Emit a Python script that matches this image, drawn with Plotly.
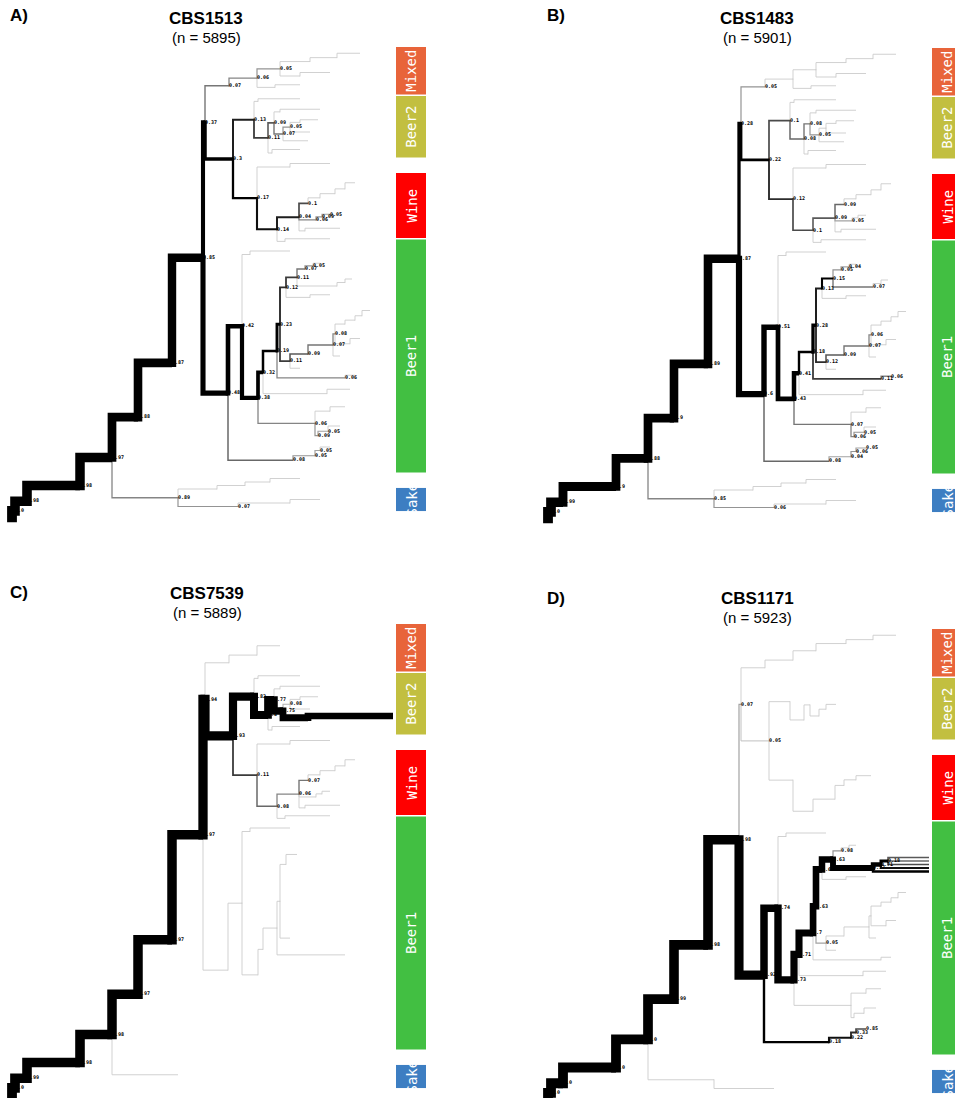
import plotly.graph_objects as go

# ---------------------------------------------------------------- data
# Shared tree topology.  Row = (internal node, parent, branch length,
# branch lengths of the leaves that hang directly off that node).
BACKBONE_ROWS = [
    ("r", None, 0, [88]),
    ("n1", "r", 3, [220]),
    ("n2", "n1", 12, [366]),
    ("n3", "n2", 53, [313]),
    ("n4", "n3", 32, []),
    ("n5", "n4", 26, [255]),
    ("n6", "n5", 34, [221]),
    ("n7", "n6", 31, []),
    ("u", "n7", 2, []),
    ("l0", "n7", 25, []),
]
MIXED_ROWS = [
    ("m0", "u", 24, [164]),
    ("m1", "m0", 28, []),
    ("m2", "m1", 23, []),
    ("m3", "m2", 30, [50]),
    ("m3a", "m3", 27, [56]),
    ("m3b", "m3a", 23, [33, 15, 33, 20]),
    ("m4", "m2", 20, [93]),
    ("m4a", "m4", 30, [63, 30, 63]),
    ("mb", "m1", 18, [118]),
    ("mb1", "mb", 25, [40, 93]),
]
BEER2_ROWS = [
    ("bw", "u", 28, []),
    ("b0", "bw", 21, []),
    ("bup", "b0", 4, [135]),
    ("bup1", "bup", 42, [93, 93]),
    ("b11", "b0", 14, []),
    ("b09", "b11", 6, []),
    ("bt", "b09", 6, [113]),
    ("bt1", "bt", 40, [73, 73]),
    ("b07", "b09", 9, []),
    ("b05", "b07", 7, []),
    ("b05a", "b05", 10, [93]),
    ("b05b", "b05a", 18, [75, 75]),
    ("b05d", "b05", 20, [83, 83, 83]),
    ("c7", "b07", 25, [85, 85]),
    ("bg", "b11", 4, [121]),
    ("bg1", "bg", 28, [93, 93, 93]),
]
WINE_ROWS = [
    ("w0", "bw", 24, []),
    ("wt", "w0", 33, [103]),
    ("wt1", "wt", 40, [63, 63, 63]),
    ("w14", "w0", 20, []),
    ("w04", "w14", 22, []),
    ("w10", "w04", 9, [85, 85]),
    ("w10a", "w10", 12, [73]),
    ("w10c", "w10a", 15, [58]),
    ("w10d", "w10c", 10, [48]),
    ("w10e", "w10d", 10, [38, 38, 20, 38, 38, 38]),
    ("w06", "w04", 17, [77]),
    ("w06a", "w06", 6, [71]),
    ("w06b", "w06a", 8, [63, 63]),
    ("wlow", "w04", 6, [88]),
    ("wlow1", "wlow", 35, [53, 53]),
    ("wbot", "w14", 8, [108]),
    ("wbot1", "wbot", 45, [63, 63]),
]
BEER1_ROWS = [
    ("l42", "l0", 14, []),
    ("g1", "l42", 8, [143]),
    ("g1a", "g1", 40, [103, 103, 103]),
    ("l38", "l42", 16, []),
    ("l32", "l38", 5, []),
    ("l19", "l32", 14, []),
    ("l23", "l19", 3, []),
    ("l12", "l23", 6, []),
    ("l11b", "l12", 11, []),
    ("cl", "l11b", 8, [88]),
    ("cl1", "cl", 8, [80]),
    ("cl2", "cl1", 7, [73, 73]),
    ("g2b", "l11b", 40, [56]),
    ("g2b1", "g2b", 8, [48]),
    ("g2b2", "g2b1", 7, [41, 41, 41]),
    ("g2", "l12", 24, [83]),
    ("g2a", "g2", 20, [63, 63]),
    ("l11", "l23", 10, []),
    ("l09", "l11", 18, [85]),
    ("q", "l09", 25, []),
    ("rr", "q", 2, []),
    ("rtop", "rr", 10, [20]),
    ("rt1", "rtop", 10, [20]),
    ("rt2", "rt1", 7, [18]),
    ("rt3", "rt2", 8, [15, 8, 15, 10, 15]),
    ("rbot", "rr", 15, [43]),
    ("rb1", "rbot", 10, [33, 25, 33, 33, 20]),
    ("gq", "q", 7, [53, 53, 53]),
    ("g11", "l11", 10, [93, 93]),
    ("g3", "l19", 68, [48]),
    ("g3a", "g3", 10, [38, 38]),
    ("g4", "l32", 64, [66]),
    ("g4a", "g4", 23, [43, 43, 30, 43]),
    ("g5", "l38", 57, []),
    ("g5top", "g5", 15, [63]),
    ("g5t1", "g5top", 15, [48, 48, 35, 48]),
    ("g5c", "g5", 3, [75]),
    ("g5d", "g5c", 10, [65]),
    ("g5e", "g5d", 12, [53, 53, 53, 53, 53]),
    ("g8", "l0", 65, [100]),
    ("g8a", "g8", 22, [78, 78]),
    ("g8b", "g8a", 5, [73]),
    ("g8c", "g8b", 10, [63, 63, 63]),
]
SAKE_ROWS = [
    ("s0", "n4", 66, []),
    ("s1", "s0", 39, [176]),
    ("s1a", "s1", 28, [148]),
    ("s1b", "s1a", 25, [123]),
    ("s1c", "s1b", 30, [93, 93, 93]),
    ("s2", "s0", 60, [155]),
    ("s2a", "s2", 52, [103]),
    ("s2b", "s2a", 30, [73, 73, 73]),
]

# Per panel: (node, printed value, branch weight).  Leaves are "t<index>".
SUPPORT_A = [
    ("n1", "1.0", 1.0), ("n2", "0.98", 0.98), ("n3", "0.98", 0.98), ("n4", "0.97", 0.97),
    ("n5", "0.88", 0.88), ("n6", "0.87", 0.87), ("n7", "0.85", 0.85), ("u", "0.37", 0.37),
    ("l0", "0.48", 0.48), ("m0", "0.07", 0.07), ("m1", "0.06", 0.06), ("m2", "0.05", 0.05),
    ("bw", "0.3", 0.3), ("b0", "0.13", 0.13), ("b11", "0.11", 0.11), ("b09", "0.09", 0.09),
    ("b07", "0.07", 0.07), ("b05", "0.05", 0.05), ("w0", "0.17", 0.17), ("w14", "0.14", 0.14),
    ("w04", "0.04", 0.13), ("w10", "0.1", 0.1), ("w06", "0.06", 0.06), ("w06a", "0.09", 0.05),
    ("w06b", "0.05", 0.04), ("l42", "0.42", 0.42), ("l38", "0.38", 0.38), ("l32", "0.32", 0.32),
    ("l19", "0.19", 0.19), ("l23", "0.23", 0.23), ("l12", "0.12", 0.12), ("l11b", "0.11", 0.11),
    ("cl", "0.07", 0.07), ("cl1", "0.05", 0.05), ("l11", "0.11", 0.11), ("l09", "0.09", 0.09),
    ("q", "0.07", 0.07), ("rr", "0.08", 0.06), ("g3", "0.06", 0.06), ("g5", "0.06", 0.06),
    ("g5c", "0.09", 0.05), ("g5d", "0.05", 0.04), ("g8", "0.08", 0.08), ("g8a", "0.05", 0.05),
    ("g8b", "0.05", 0.04), ("s0", "0.89", 0.06), ("s2", "0.07", 0.05),
]
SUPPORT_B = [
    ("n1", "1.0", 1.0), ("n2", "0.99", 0.99), ("n3", "0.9", 0.9), ("n4", "0.88", 0.88),
    ("n5", "0.9", 0.88), ("n6", "0.89", 0.87), ("n7", "0.87", 0.87), ("u", "0.28", 0.28),
    ("l0", "0.6", 0.6), ("m0", "0.05", 0.05), ("bw", "0.22", 0.22), ("b0", "0.1", 0.1),
    ("b11", "0.08", 0.08), ("b09", "0.08", 0.07), ("b07", "0.05", 0.05), ("w0", "0.12", 0.12),
    ("w14", "0.1", 0.1), ("w04", "0.09", 0.09), ("w10", "0.09", 0.08), ("w06", "0.05", 0.04),
    ("l42", "0.51", 0.51), ("l38", "0.43", 0.43), ("l32", "0.41", 0.41), ("l19", "0.18", 0.18),
    ("l23", "0.28", 0.28), ("l12", "0.13", 0.13), ("l11b", "0.15", 0.15), ("cl", "0.05", 0.05),
    ("cl1", "0.04", 0.04), ("g2b", "0.07", 0.07), ("l11", "0.12", 0.12), ("l09", "0.09", 0.09),
    ("q", "0.07", 0.07), ("rr", "0.06", 0.06), ("g3", "0.11", 0.11), ("g3a", "0.06", 0.06),
    ("g5", "0.07", 0.07), ("g5c", "0.06", 0.06), ("g5d", "0.05", 0.05), ("g8", "0.08", 0.08),
    ("g8a", "0.04", 0.04), ("g8b", "0.06", 0.05), ("g8c", "0.05", 0.04), ("s0", "0.85", 0.06),
    ("s2", "0.06", 0.05),
]
SUPPORT_C = [
    ("n1", "1.0", 1.0), ("n2", "0.99", 0.99), ("n3", "0.98", 0.98), ("n4", "0.98", 0.98),
    ("n5", "0.97", 0.97), ("n6", "0.97", 0.97), ("n7", "0.97", 0.97), ("u", "0.94", 0.94),
    ("bw", "0.93", 0.93), ("b0", "0.82", 0.82), ("b11", "0.8", 0.8), ("b09", "0.77", 0.77),
    ("b07", "0.75", 0.75), ("b05", "0.08", 0.03), ("c7", "0.67", 0.67), ("t26", "", 0.65),
    ("w0", "0.11", 0.11), ("w14", "0.08", 0.08), ("w04", "0.06", 0.06), ("w10", "0.07", 0.07),
]
SUPPORT_D = [
    ("n1", "1.0", 1.0), ("n2", "1.0", 1.0), ("n3", "1.0", 1.0), ("n4", "1.0", 1.0),
    ("n5", "0.99", 0.99), ("n6", "0.98", 0.98), ("n7", "0.98", 0.98), ("u", "0.07", 0.04),
    ("bw", "0.05", 0.02), ("l0", "0.92", 0.92), ("l42", "0.74", 0.74), ("l38", "0.73", 0.73),
    ("l32", "0.71", 0.71), ("l19", "0.7", 0.7), ("l23", "0.63", 0.63), ("l12", "0.64", 0.64),
    ("l11b", "0.63", 0.63), ("cl", "0.08", 0.05), ("g2b", "0.57", 0.57), ("g2b1", "0.71", 0.4),
    ("g2b2", "0.18", 0.25), ("t65", "", 0.09), ("t66", "", 0.08), ("t67", "", 0.1),
    ("t68", "", 0.14), ("t69", "", 0.18), ("l11", "0.05", 0.04), ("g8", "0.18", 0.18),
    ("g8a", "0.22", 0.14), ("g8b", "0.33", 0.12), ("g8c", "0.85", 0.1),
]
# Branches drawn faint (unassigned) in each panel: whole subtrees / single edges
FAINT_SUBTREES_A = ["r"]
FAINT_EDGES_A = []
FAINT_SUBTREES_B = ["r"]
FAINT_EDGES_B = []
FAINT_SUBTREES_C = ["b0", "w0", "g1"]
FAINT_EDGES_C = ["m0", "m1", "m2", "l0", "l42", "l38", "l32", "l19", "l23", "l12",
                 "l11b", "l11", "g3", "s0"]
FAINT_SUBTREES_D = ["l0", "m3"]
FAINT_EDGES_D = ["m0", "m1", "m2", "b0", "b11", "b09", "b07", "b05", "b05a", "w0", "w14",
                 "w04", "w10", "w10a", "w10c", "s0", "s2"]

CLADE_NAMES = ["Mixed", "Beer2", "Wine", "Beer1", "Sake"]
CLADE_FIRST_LEAF = [0, 14, 36, 55, 126]
CLADE_LAST_LEAF = [13, 31, 54, 121, 132]
CLADE_COLORS = ["#E8643A", "#C2BF40", "#FF0000", "#42BF42", "#3D7EC2"]

PANEL_LETTERS = ["A)", "B)", "C)", "D)"]
STRAINS = ["CBS1513", "CBS1483", "CBS7539", "CBS1171"]
N_STRAINS = [5895, 5901, 5889, 5923]

# ---------------------------------------------------------------- layout constants
W, H = 955, 1098
PX_PER_LEAF = 3.5
ROOT_PX = 12
FIRST_LEAF_PX = 48
ORIGINS = [(0, 0), (536, 1), (0, 577), (536, 582)]
DOMAINS = [(0, 536, 0, 577), (536, 955, 0, 577), (0, 536, 577, 1098), (536, 955, 577, 1098)]
TITLE_XY = [(206, 18), (757, 19), (207, 593), (757, 598)]
LETTER_XY = [(8, 16), (545, 16), (8, 592), (545, 598)]
BAR_X = (384, 414)
FAINT_W = 0.012

# ---------------------------------------------------------------- tree layout
rows = BACKBONE_ROWS + MIXED_ROWS + BEER2_ROWS + WINE_ROWS + BEER1_ROWS + SAKE_ROWS
parent, blen, tips, children = {}, {}, {}, {}
for name, par, ln, tp in rows:
    parent[name] = par
    blen[name] = ln
    tips[name] = tp
    children.setdefault(name, [])
    if par is not None:
        children.setdefault(par, []).append(name)

X, Y = {}, {}
counter = [0]


def place(node, depth):
    X[node] = depth
    ys = []
    for c in children[node]:
        place(c, depth + blen[c])
        ys.append(Y[c])
    for tl in tips[node]:
        i = counter[0]
        counter[0] += 1
        leaf = f"t{i}"
        parent[leaf] = node
        children[leaf] = []
        X[leaf] = depth + tl
        Y[leaf] = float(i)
        ys.append(Y[leaf])
    Y[node] = (ys[0] + ys[-1]) / 2.0


place("r", 0)


def subtree(node):
    out = [node]
    for c in children[node]:
        out += subtree(c)
    return out


def style(w):
    width = round(0.8 + 9.0 * w, 1)
    g = int(round(222 * max(0.0, 1 - w / 0.15)))
    return width, f"rgb({g},{g},{g})"


panels = [
    (SUPPORT_A, FAINT_SUBTREES_A, FAINT_EDGES_A),
    (SUPPORT_B, FAINT_SUBTREES_B, FAINT_EDGES_B),
    (SUPPORT_C, FAINT_SUBTREES_C, FAINT_EDGES_C),
    (SUPPORT_D, FAINT_SUBTREES_D, FAINT_EDGES_D),
]

fig = go.Figure()
layout_axes = {}
shapes, annotations = [], []

for k, (support, fsub, fedge) in enumerate(panels):
    sfx = "" if k == 0 else str(k + 1)
    xa, ya = "x" + sfx, "y" + sfx
    ox, oy = ORIGINS[k]
    x0, x1, y0, y1 = DOMAINS[k]
    layout_axes["xaxis" + sfx] = dict(domain=[x0 / W, x1 / W], anchor=ya,
                                      range=[x0 - ox - ROOT_PX, x1 - ox - ROOT_PX],
                                      visible=False, fixedrange=True)
    top = (y0 - oy - FIRST_LEAF_PX) / PX_PER_LEAF
    bot = (y1 - oy - FIRST_LEAF_PX) / PX_PER_LEAF
    layout_axes["yaxis" + sfx] = dict(domain=[1 - y1 / H, 1 - y0 / H], anchor=xa,
                                      range=[bot, top], visible=False, fixedrange=True)

    weights = {}
    for s in fsub:
        for n in subtree(s):
            weights[n] = FAINT_W
    for n in fedge:
        weights[n] = FAINT_W
    for n, _, v in support:
        weights[n] = v
    weights.pop("r", None)

    groups = {}
    for n, w in weights.items():
        p = parent[n]
        width, color = style(w)
        ext = (width / 2.0) / PX_PER_LEAF
        sgn = 1 if Y[n] < Y[p] else -1
        g = groups.setdefault((width, color), dict(x=[], y=[], w=w))
        g["x"] += [X[p], X[p], X[n], None]
        g["y"] += [Y[p] + sgn * ext, Y[n], Y[n], None]
        g["w"] = min(g["w"], w)
    for (width, color), g in sorted(groups.items(), key=lambda kv: kv[1]["w"]):
        fig.add_trace(go.Scatter(x=g["x"], y=g["y"], mode="lines", xaxis=xa, yaxis=ya,
                                 line=dict(color=color, width=width), hoverinfo="skip",
                                 showlegend=False))

    lx = [X[n] for n, t, _ in support if t]
    ly = [Y[n] for n, t, _ in support if t]
    lt = [t for n, t, _ in support if t]
    fig.add_trace(go.Scatter(x=lx, y=ly, text=lt, mode="text", textposition="middle right",
                             xaxis=xa, yaxis=ya, hoverinfo="skip", showlegend=False,
                             textfont=dict(family="DejaVu Sans Mono", size=5, color="black",
                                           weight="bold")))

    for name, a, b, col in zip(CLADE_NAMES, CLADE_FIRST_LEAF, CLADE_LAST_LEAF, CLADE_COLORS):
        shapes.append(dict(type="rect", xref=xa, yref=ya, x0=BAR_X[0], x1=BAR_X[1],
                           y0=a - 0.3, y1=b + 0.3, fillcolor=col, line=dict(width=0),
                           layer="below"))
        annotations.append(dict(xref=xa, yref=ya, x=(BAR_X[0] + BAR_X[1]) / 2,
                                y=(a + b) / 2, text=name, textangle=-90, showarrow=False,
                                font=dict(family="DejaVu Sans Mono", size=14, color="white")))

    tx, ty = TITLE_XY[k]
    annotations.append(dict(xref="paper", yref="paper", x=tx / W, y=1 - ty / H,
                            text=f"<b>{STRAINS[k]}</b>", showarrow=False,
                            xanchor="center", yanchor="middle",
                            font=dict(family="Liberation Sans, Arial", size=17, color="black")))
    annotations.append(dict(xref="paper", yref="paper", x=tx / W, y=1 - (ty + 19) / H,
                            text=f"(n = {N_STRAINS[k]})", showarrow=False,
                            xanchor="center", yanchor="middle",
                            font=dict(family="Liberation Sans, Arial", size=15, color="black")))
    lxp, lyp = LETTER_XY[k]
    annotations.append(dict(xref="paper", yref="paper", x=lxp / W, y=1 - lyp / H,
                            text=f"<b>{PANEL_LETTERS[k]}</b>", showarrow=False,
                            xanchor="left", yanchor="middle",
                            font=dict(family="Liberation Sans, Arial", size=17, color="black")))

fig.update_layout(width=W, height=H, margin=dict(l=0, r=0, t=0, b=0),
                  paper_bgcolor="white", plot_bgcolor="white", showlegend=False,
                  shapes=shapes, annotations=annotations, **layout_axes)

fig.write_html("out.html", config=dict(displayModeBar=False),
               post_script="document.body.style.margin='0';document.body.style.overflow='hidden';")
